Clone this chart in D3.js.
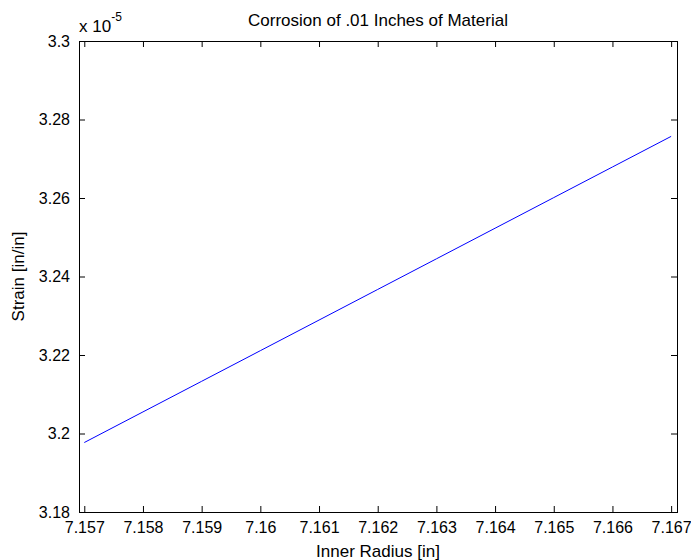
<!DOCTYPE html>
<html>
<head>
<meta charset="utf-8">
<script src="https://cdn.jsdelivr.net/npm/d3@7"></script>
<style>
  html, body { margin: 0; padding: 0; background: #fff; }
  svg { display: block; }
  text { font-family: "Liberation Sans", Arial, sans-serif; fill: #000; }
</style>
</head>
<body>
<svg id="chart" width="691" height="560"></svg>
<script>
// Data
const innerRadius = [7.157, 7.158, 7.159, 7.160, 7.161, 7.162, 7.163, 7.164, 7.165, 7.166, 7.167];
const strain = [3.1977e-5, 3.2055e-5, 3.2133e-5, 3.2211e-5, 3.2289e-5, 3.2367e-5, 3.2445e-5, 3.2523e-5, 3.2601e-5, 3.2679e-5, 3.2757e-5];
const xTicks = [7.157, 7.158, 7.159, 7.160, 7.161, 7.162, 7.163, 7.164, 7.165, 7.166, 7.167];
const yTicks = [3.18e-5, 3.20e-5, 3.22e-5, 3.24e-5, 3.26e-5, 3.28e-5, 3.30e-5];
const titleText = "Corrosion of .01 Inches of Material";
const xLabelText = "Inner Radius [in]";
const yLabelText = "Strain [in/in]";

(function () {
const svg = d3.select("#chart");
const mLeft = 79, mRight = 677, mTop = 41, mBottom = 512;

const x = d3.scaleLinear().domain([7.15691, 7.16710]).range([mLeft, mRight]);
const y = d3.scaleLinear().domain([3.18e-5, 3.30e-5]).range([mBottom, mTop]);

const fmtX = d => String(+d.toFixed(4));
const fmtY = d => String(+(d * 1e5).toFixed(4));

const axisColor = "#000";
const tickLen = 6;

// Line
const line = d3.line().x((d, i) => x(innerRadius[i])).y(d => y(d));
svg.append("path")
  .datum(strain)
  .attr("d", line)
  .attr("fill", "none")
  .attr("stroke", "#0000ff")
  .attr("stroke-width", 1);

// Box
svg.append("rect")
  .attr("x", mLeft + 0.5).attr("y", mTop + 0.5)
  .attr("width", mRight - mLeft).attr("height", mBottom - mTop)
  .attr("fill", "none").attr("stroke", axisColor).attr("stroke-width", 1);

// Axes (ticks inward)
const xAxisB = d3.axisBottom(x).tickValues(xTicks).tickSizeInner(-tickLen).tickSizeOuter(0).tickPadding(10).tickFormat(fmtX);
const xAxisT = d3.axisTop(x).tickValues(xTicks).tickSizeInner(-tickLen).tickSizeOuter(0).tickFormat("");
const yAxisL = d3.axisLeft(y).tickValues(yTicks).tickSizeInner(-tickLen).tickSizeOuter(0).tickPadding(9).tickFormat(fmtY);
const yAxisR = d3.axisRight(y).tickValues(yTicks).tickSizeInner(-tickLen).tickSizeOuter(0).tickFormat("");

function style(g) {
  g.select(".domain").remove();
  g.selectAll(".tick line").attr("stroke", axisColor);
  g.selectAll(".tick text").attr("fill", "#000").style("font-size", "16px")
    .style("font-family", '"Liberation Sans", Arial, sans-serif');
}

svg.append("g").attr("transform", `translate(0,${mBottom})`).call(xAxisB).call(style);
svg.append("g").attr("transform", `translate(0,${mTop})`).call(xAxisT).call(style);
svg.append("g").attr("transform", `translate(${mLeft},0)`).call(yAxisL).call(style);
svg.append("g").attr("transform", `translate(${mRight},0)`).call(yAxisR).call(style);

// Exponent label
const expo = svg.append("text").attr("x", mLeft).attr("y", 32).style("font-size", "17px");
expo.append("tspan").text("x 10");
expo.append("tspan").attr("dy", -11).style("font-size", "12px").text("-5");

// Title
svg.append("text")
  .attr("x", (mLeft + mRight) / 2).attr("y", 26)
  .attr("text-anchor", "middle").style("font-size", "17px")
  .text(titleText);

// X label
svg.append("text")
  .attr("x", (mLeft + mRight) / 2).attr("y", 557)
  .attr("text-anchor", "middle").style("font-size", "17px")
  .text(xLabelText);

// Y label
svg.append("text")
  .attr("transform", `translate(24,${(mTop + mBottom) / 2}) rotate(-90)`)
  .attr("text-anchor", "middle").style("font-size", "17px")
  .text(yLabelText);
})();
</script>
</body>
</html>
